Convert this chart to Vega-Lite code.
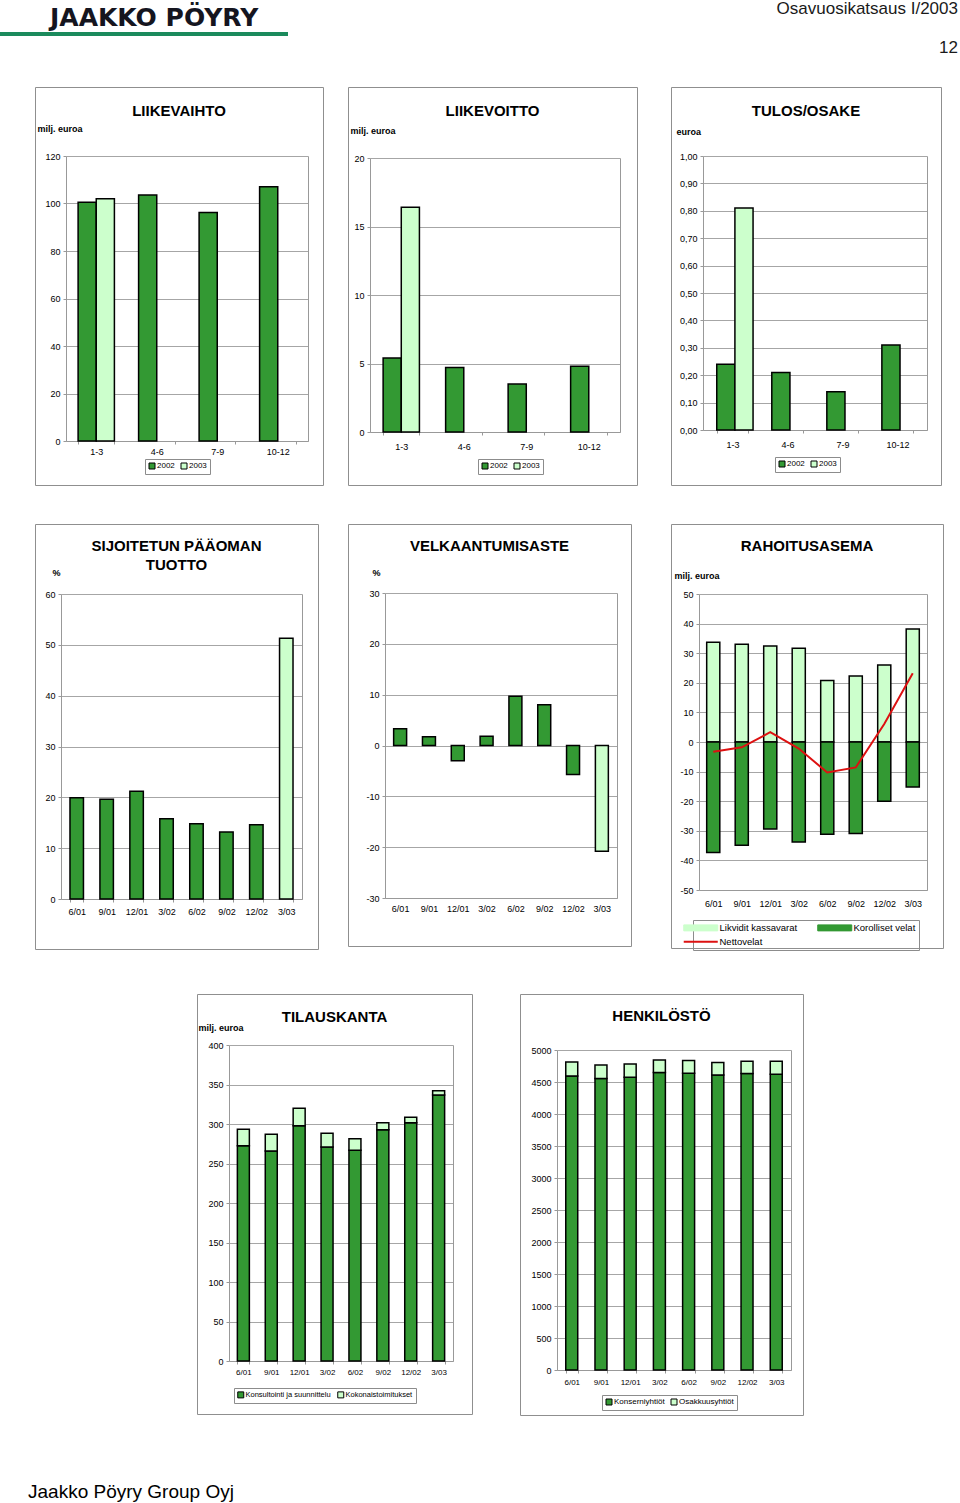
{
  "$schema": "https://vega.github.io/schema/vega-lite/v6.json",
  "padding": 0,
  "background": "white",
  "spacing": 0,
  "resolve": {"scale": {"color": "independent"}, "legend": {"color": "independent"}},
  "datasets": {
    "liikevaihto": [
      {"jakso": "1-3", "vuosi": "2002", "arvo": 100.5},
      {"jakso": "4-6", "vuosi": "2002", "arvo": 103.6},
      {"jakso": "7-9", "vuosi": "2002", "arvo": 96.2},
      {"jakso": "10-12", "vuosi": "2002", "arvo": 107.1},
      {"jakso": "1-3", "vuosi": "2003", "arvo": 102.0}
    ],
    "liikevoitto": [
      {"jakso": "1-3", "vuosi": "2002", "arvo": 5.4},
      {"jakso": "4-6", "vuosi": "2002", "arvo": 4.7},
      {"jakso": "7-9", "vuosi": "2002", "arvo": 3.5},
      {"jakso": "10-12", "vuosi": "2002", "arvo": 4.8},
      {"jakso": "1-3", "vuosi": "2003", "arvo": 16.4}
    ],
    "tulos": [
      {"jakso": "1-3", "vuosi": "2002", "arvo": 0.24},
      {"jakso": "4-6", "vuosi": "2002", "arvo": 0.21},
      {"jakso": "7-9", "vuosi": "2002", "arvo": 0.14},
      {"jakso": "10-12", "vuosi": "2002", "arvo": 0.31},
      {"jakso": "1-3", "vuosi": "2003", "arvo": 0.81}
    ],
    "roi": [
      {"kausi": "6/01", "sarja": "aiemmat", "arvo": 19.9},
      {"kausi": "9/01", "sarja": "aiemmat", "arvo": 19.6},
      {"kausi": "12/01", "sarja": "aiemmat", "arvo": 21.2},
      {"kausi": "3/02", "sarja": "aiemmat", "arvo": 15.8},
      {"kausi": "6/02", "sarja": "aiemmat", "arvo": 14.8},
      {"kausi": "9/02", "sarja": "aiemmat", "arvo": 13.2},
      {"kausi": "12/02", "sarja": "aiemmat", "arvo": 14.6},
      {"kausi": "3/03", "sarja": "2003", "arvo": 51.3}
    ],
    "velka": [
      {"kausi": "6/01", "sarja": "aiemmat", "arvo": 3.3},
      {"kausi": "9/01", "sarja": "aiemmat", "arvo": 1.7},
      {"kausi": "12/01", "sarja": "aiemmat", "arvo": -3.0},
      {"kausi": "3/02", "sarja": "aiemmat", "arvo": 1.8},
      {"kausi": "6/02", "sarja": "aiemmat", "arvo": 9.7},
      {"kausi": "9/02", "sarja": "aiemmat", "arvo": 8.0},
      {"kausi": "12/02", "sarja": "aiemmat", "arvo": -5.7},
      {"kausi": "3/03", "sarja": "2003", "arvo": -20.8}
    ],
    "rahoitus": [
      {"kausi": "6/01", "sarja": "Likvidit kassavarat", "arvo": 33.7},
      {"kausi": "9/01", "sarja": "Likvidit kassavarat", "arvo": 33.0},
      {"kausi": "12/01", "sarja": "Likvidit kassavarat", "arvo": 32.4},
      {"kausi": "3/02", "sarja": "Likvidit kassavarat", "arvo": 31.7},
      {"kausi": "6/02", "sarja": "Likvidit kassavarat", "arvo": 20.8},
      {"kausi": "9/02", "sarja": "Likvidit kassavarat", "arvo": 22.3},
      {"kausi": "12/02", "sarja": "Likvidit kassavarat", "arvo": 26.0},
      {"kausi": "3/03", "sarja": "Likvidit kassavarat", "arvo": 38.2},
      {"kausi": "6/01", "sarja": "Korolliset velat", "arvo": -37.3},
      {"kausi": "9/01", "sarja": "Korolliset velat", "arvo": -34.9},
      {"kausi": "12/01", "sarja": "Korolliset velat", "arvo": -29.4},
      {"kausi": "3/02", "sarja": "Korolliset velat", "arvo": -33.8},
      {"kausi": "6/02", "sarja": "Korolliset velat", "arvo": -31.2},
      {"kausi": "9/02", "sarja": "Korolliset velat", "arvo": -30.9},
      {"kausi": "12/02", "sarja": "Korolliset velat", "arvo": -20.0},
      {"kausi": "3/03", "sarja": "Korolliset velat", "arvo": -15.2},
      {"kausi": "6/01", "sarja": "Nettovelat", "arvo": -3.3},
      {"kausi": "9/01", "sarja": "Nettovelat", "arvo": -1.8},
      {"kausi": "12/01", "sarja": "Nettovelat", "arvo": 3.3},
      {"kausi": "3/02", "sarja": "Nettovelat", "arvo": -2.2},
      {"kausi": "6/02", "sarja": "Nettovelat", "arvo": -10.3},
      {"kausi": "9/02", "sarja": "Nettovelat", "arvo": -8.6},
      {"kausi": "12/02", "sarja": "Nettovelat", "arvo": 6.1},
      {"kausi": "3/03", "sarja": "Nettovelat", "arvo": 23.2}
    ],
    "tilaus": [
      {"kausi": "6/01", "sarja": "Konsultointi ja suunnittelu", "arvo": 272.6},
      {"kausi": "9/01", "sarja": "Konsultointi ja suunnittelu", "arvo": 265.8},
      {"kausi": "12/01", "sarja": "Konsultointi ja suunnittelu", "arvo": 297.9},
      {"kausi": "3/02", "sarja": "Konsultointi ja suunnittelu", "arvo": 270.9},
      {"kausi": "6/02", "sarja": "Konsultointi ja suunnittelu", "arvo": 266.7},
      {"kausi": "9/02", "sarja": "Konsultointi ja suunnittelu", "arvo": 292.8},
      {"kausi": "12/02", "sarja": "Konsultointi ja suunnittelu", "arvo": 301.7},
      {"kausi": "3/03", "sarja": "Konsultointi ja suunnittelu", "arvo": 336.7},
      {"kausi": "6/01", "sarja": "Kokonaistoimitukset", "arvo": 20.6},
      {"kausi": "9/01", "sarja": "Kokonaistoimitukset", "arvo": 21.2},
      {"kausi": "12/01", "sarja": "Kokonaistoimitukset", "arvo": 21.9},
      {"kausi": "3/02", "sarja": "Kokonaistoimitukset", "arvo": 17.3},
      {"kausi": "6/02", "sarja": "Kokonaistoimitukset", "arvo": 14.7},
      {"kausi": "9/02", "sarja": "Kokonaistoimitukset", "arvo": 8.9},
      {"kausi": "12/02", "sarja": "Kokonaistoimitukset", "arvo": 6.7},
      {"kausi": "3/03", "sarja": "Kokonaistoimitukset", "arvo": 5.5}
    ],
    "henkilosto": [
      {"kausi": "6/01", "sarja": "Konserniyhtiöt", "arvo": 4595},
      {"kausi": "9/01", "sarja": "Konserniyhtiöt", "arvo": 4553},
      {"kausi": "12/01", "sarja": "Konserniyhtiöt", "arvo": 4574},
      {"kausi": "3/02", "sarja": "Konserniyhtiöt", "arvo": 4647},
      {"kausi": "6/02", "sarja": "Konserniyhtiöt", "arvo": 4636},
      {"kausi": "9/02", "sarja": "Konserniyhtiöt", "arvo": 4610},
      {"kausi": "12/02", "sarja": "Konserniyhtiöt", "arvo": 4631},
      {"kausi": "3/03", "sarja": "Konserniyhtiöt", "arvo": 4620},
      {"kausi": "6/01", "sarja": "Osakkuusyhtiöt", "arvo": 218},
      {"kausi": "9/01", "sarja": "Osakkuusyhtiöt", "arvo": 213},
      {"kausi": "12/01", "sarja": "Osakkuusyhtiöt", "arvo": 208},
      {"kausi": "3/02", "sarja": "Osakkuusyhtiöt", "arvo": 197},
      {"kausi": "6/02", "sarja": "Osakkuusyhtiöt", "arvo": 198},
      {"kausi": "9/02", "sarja": "Osakkuusyhtiöt", "arvo": 193},
      {"kausi": "12/02", "sarja": "Osakkuusyhtiöt", "arvo": 192},
      {"kausi": "3/03", "sarja": "Osakkuusyhtiöt", "arvo": 203}
    ]
  },
  "vconcat": [
    {
      "hconcat": [
        {"width": 288, "height": 4, "data": {"values": []}, "mark": "rule", "encoding": {}, "view": {"stroke": null, "fill": "#1b8a5c"},
         "title": {"text": "JAAKKO PÖYRY", "anchor": "start", "frame": "group", "dx": 50, "font": "DejaVu Sans", "fontSize": 25, "fontWeight": "bold", "color": "#15151f", "offset": 1}},
        {"width": 312, "height": 54, "data": {"values": []}, "mark": "rule", "encoding": {}, "view": {"stroke": null}},
        {"width": 358, "height": 0, "data": {"values": []}, "mark": "rule", "encoding": {}, "view": {"stroke": null},
         "title": {"text": "Osavuosikatsaus I/2003", "subtitle": "12", "anchor": "end", "frame": "group", "font": "Liberation Sans", "fontSize": 17, "fontWeight": "normal", "color": "#1a1a1a", "subtitleFont": "Liberation Sans", "subtitleFontSize": 17, "subtitleColor": "#1a1a1a", "subtitlePadding": 22, "offset": 0, "dy": 25}}
      ],
      "spacing": 0, "bounds": "flush",
      "resolve": {"scale": {"color": "independent"}, "legend": {"color": "independent"}}
    },
    {
      "hconcat": [
        {"width": 35, "height": 436, "data": {"values": []}, "mark": "rule", "encoding": {}, "view": {"stroke": null}},
        {
          "width": 288, "height": 398,
          "title": {"text": "LIIKEVAIHTO", "offset": -32},
          "data": {"name": "liikevaihto"},
          "layer": [
            {
              "mark": {"type": "bar", "stroke": "#000000", "strokeWidth": 1.5},
              "encoding": {
                "x": {"field": "jakso", "type": "nominal", "sort": ["1-3", "4-6", "7-9", "10-12"], "scale": {"range": [31, 273], "paddingInner": 0.4, "paddingOuter": 0.2}, "axis": {"title": null, "labelPadding": 3, "offset": -44}},
                "xOffset": {"field": "vuosi", "type": "nominal", "scale": {"domain": ["2002", "2003"], "paddingInner": 0, "paddingOuter": 0}},
                "y": {"field": "arvo", "type": "quantitative", "scale": {"domain": [0, 120], "nice": false, "range": [354, 69]}, "axis": {"title": "milj. euroa", "titleX": -29, "titleY": 44, "offset": -31, "values": [0, 20, 40, 60, 80, 100, 120]}},
                "color": {"field": "vuosi", "type": "nominal", "scale": {"domain": ["2002", "2003"], "range": ["#339933", "#ccffcc"]}, "legend": {"title": null, "legendX": 110, "legendY": 372}}
              }
            },
            {
              "mark": {"type": "rule", "opacity": 0},
              "encoding": {"y": {"field": "arvo", "type": "quantitative", "axis": {"orient": "right", "offset": -15, "labels": false, "ticks": false, "grid": false, "domain": true, "title": null}}}
            }
          ],
          "resolve": {"axis": {"y": "independent"}}
        },
        {"width": 25, "height": 0, "data": {"values": []}, "mark": "rule", "encoding": {}, "view": {"stroke": null}},
        {
          "width": 289, "height": 398,
          "title": {"text": "LIIKEVOITTO", "offset": -32},
          "data": {"name": "liikevoitto"},
          "layer": [
            {
              "mark": {"type": "bar", "stroke": "#000000", "strokeWidth": 1.5},
              "encoding": {
                "x": {"field": "jakso", "type": "nominal", "sort": ["1-3", "4-6", "7-9", "10-12"], "scale": {"range": [22, 272], "paddingInner": 0.42, "paddingOuter": 0.21}, "axis": {"title": null, "labelPadding": 7, "offset": -53}},
                "xOffset": {"field": "vuosi", "type": "nominal", "scale": {"domain": ["2002", "2003"], "paddingInner": 0, "paddingOuter": 0}},
                "y": {"field": "arvo", "type": "quantitative", "scale": {"domain": [0, 20], "nice": false, "range": [345, 71]}, "axis": {"title": "milj. euroa", "titleX": -20, "titleY": 46, "offset": -22, "values": [0, 5, 10, 15, 20]}},
                "color": {"field": "vuosi", "type": "nominal", "scale": {"domain": ["2002", "2003"], "range": ["#339933", "#ccffcc"]}, "legend": {"title": null, "legendX": 130, "legendY": 372}}
              }
            },
            {
              "mark": {"type": "rule", "opacity": 0},
              "encoding": {"y": {"field": "arvo", "type": "quantitative", "axis": {"orient": "right", "offset": -17, "labels": false, "ticks": false, "grid": false, "domain": true, "title": null}}}
            }
          ],
          "resolve": {"axis": {"y": "independent"}}
        },
        {"width": 34, "height": 0, "data": {"values": []}, "mark": "rule", "encoding": {}, "view": {"stroke": null}},
        {
          "width": 270, "height": 398,
          "title": {"text": "TULOS/OSAKE", "offset": -32},
          "data": {"name": "tulos"},
          "layer": [
            {
              "mark": {"type": "bar", "stroke": "#000000", "strokeWidth": 1.5},
              "encoding": {
                "x": {"field": "jakso", "type": "nominal", "sort": ["1-3", "4-6", "7-9", "10-12"], "scale": {"range": [32, 256], "paddingInner": 0.43, "paddingOuter": 0.25}, "axis": {"title": null, "labelPadding": 7, "offset": -55}},
                "xOffset": {"field": "vuosi", "type": "nominal", "scale": {"domain": ["2002", "2003"], "paddingInner": 0, "paddingOuter": 0}},
                "y": {"field": "arvo", "type": "quantitative", "scale": {"domain": [0, 1], "nice": false, "range": [343, 69]}, "axis": {"title": "euroa", "titleX": -27, "titleY": 47, "offset": -32, "values": [0, 0.1, 0.2, 0.3, 0.4, 0.5, 0.6, 0.7, 0.8, 0.9, 1], "labelExpr": "replace(format(datum.value, '.2f'), '.', ',')"}},
                "color": {"field": "vuosi", "type": "nominal", "scale": {"domain": ["2002", "2003"], "range": ["#339933", "#ccffcc"]}, "legend": {"title": null, "legendX": 104, "legendY": 370}}
              }
            },
            {
              "mark": {"type": "rule", "opacity": 0},
              "encoding": {"y": {"field": "arvo", "type": "quantitative", "axis": {"orient": "right", "offset": -14, "labels": false, "ticks": false, "grid": false, "domain": true, "title": null}}}
            }
          ],
          "resolve": {"axis": {"y": "independent"}}
        }
      ],
      "spacing": 0, "bounds": "flush",
      "resolve": {"scale": {"color": "independent"}, "legend": {"color": "independent"}}
    },
    {
      "hconcat": [
        {"width": 35, "height": 469, "data": {"values": []}, "mark": "rule", "encoding": {}, "view": {"stroke": null}},
        {
          "width": 283, "height": 425,
          "title": {"text": ["SIJOITETUN PÄÄOMAN", "TUOTTO"], "offset": -49, "lineHeight": 19},
          "data": {"name": "roi"},
          "layer": [
            {
              "mark": {"type": "bar", "stroke": "#000000", "strokeWidth": 1.5},
              "encoding": {
                "x": {"field": "kausi", "type": "nominal", "sort": ["6/01", "9/01", "12/01", "3/02", "6/02", "9/02", "12/02", "3/03"], "scale": {"range": [26, 267], "paddingInner": 0.55, "paddingOuter": 0.3}, "axis": {"title": null, "labelPadding": 5, "offset": -50}},
                "y": {"field": "arvo", "type": "quantitative", "scale": {"domain": [0, 60], "nice": false, "range": [375, 70]}, "axis": {"title": "%", "titleX": -9, "titleY": 51, "offset": -26, "values": [0, 10, 20, 30, 40, 50, 60]}},
                "color": {"field": "sarja", "type": "nominal", "scale": {"domain": ["aiemmat", "2003"], "range": ["#339933", "#ccffcc"]}, "legend": null}
              }
            },
            {
              "mark": {"type": "rule", "opacity": 0},
              "encoding": {"y": {"field": "arvo", "type": "quantitative", "axis": {"orient": "right", "offset": -16, "labels": false, "ticks": false, "grid": false, "domain": true, "title": null}}}
            }
          ],
          "resolve": {"axis": {"y": "independent"}}
        },
        {"width": 30, "height": 0, "data": {"values": []}, "mark": "rule", "encoding": {}, "view": {"stroke": null}},
        {
          "width": 283, "height": 422,
          "title": {"text": "VELKAANTUMISASTE", "offset": -30},
          "data": {"name": "velka"},
          "layer": [
            {
              "mark": {"type": "bar", "stroke": "#000000", "strokeWidth": 1.5},
              "encoding": {
                "x": {"field": "kausi", "type": "nominal", "sort": ["6/01", "9/01", "12/01", "3/02", "6/02", "9/02", "12/02", "3/03"], "scale": {"range": [37, 269], "paddingInner": 0.55, "paddingOuter": 0.3}, "axis": {"title": null, "ticks": false, "labelPadding": 6, "offset": -48}},
                "y": {"field": "arvo", "type": "quantitative", "scale": {"domain": [-30, 30], "nice": false, "range": [374, 69]}, "axis": {"title": "%", "titleX": -13, "titleY": 51, "offset": -37, "values": [-30, -20, -10, 0, 10, 20, 30], "labelExpr": "toString(datum.value)"}},
                "color": {"field": "sarja", "type": "nominal", "scale": {"domain": ["aiemmat", "2003"], "range": ["#339933", "#ccffcc"]}, "legend": null}
              }
            },
            {
              "mark": {"type": "rule", "opacity": 0},
              "encoding": {"y": {"field": "arvo", "type": "quantitative", "axis": {"orient": "right", "offset": -14, "labels": false, "ticks": false, "grid": false, "domain": true, "title": null}}}
            }
          ],
          "resolve": {"axis": {"y": "independent"}}
        },
        {"width": 40, "height": 0, "data": {"values": []}, "mark": "rule", "encoding": {}, "view": {"stroke": null}},
        {
          "width": 272, "height": 424,
          "title": {"text": "RAHOITUSASEMA", "offset": -30},
          "data": {"name": "rahoitus"},
          "encoding": {
            "x": {"field": "kausi", "type": "nominal", "sort": ["6/01", "9/01", "12/01", "3/02", "6/02", "9/02", "12/02", "3/03"], "scale": {"range": [28, 256], "paddingInner": 0.54, "paddingOuter": 0.27}, "axis": {"title": null, "ticks": false, "labelPadding": 9, "offset": -58}},
            "color": {"field": "sarja", "type": "nominal", "scale": {"domain": ["Likvidit kassavarat", "Korolliset velat", "Nettovelat"], "range": ["#ccffcc", "#339933", "#dd1111"]},
              "legend": {"title": null, "legendX": 22, "legendY": 396, "columns": 2, "padding": 3, "labelFontSize": 9.5, "labelOffset": 14, "columnPadding": 17, "rowPadding": 3, "symbolSize": 36, "symbolType": "M-5.67,-1H5.67V1H-5.67Z",
                "encode": {"symbols": {"update": {
                  "shape": {"signal": "datum.value === 'Nettovelat' ? 'M-5.67,0H5.67' : 'M-5.67,-1H5.67V1H-5.67Z'"},
                  "fill": {"signal": "datum.value === 'Nettovelat' ? 'transparent' : (datum.value === 'Likvidit kassavarat' ? '#ccffcc' : '#339933')"},
                  "stroke": {"signal": "datum.value === 'Nettovelat' ? '#dd1111' : '#000000'"},
                  "strokeWidth": {"signal": "datum.value === 'Nettovelat' ? 2 : 1"}
                }}}}}
          },
          "layer": [
            {
              "transform": [{"filter": "datum.sarja !== 'Nettovelat'"}],
              "mark": {"type": "bar", "stroke": "#000000", "strokeWidth": 1.5},
              "encoding": {
                "y": {"field": "arvo", "type": "quantitative", "scale": {"domain": [-50, 50], "nice": false, "range": [366, 70]}, "axis": {"title": "milj.  euroa", "titleX": -25, "titleY": 54, "offset": -28, "values": [-50, -40, -30, -20, -10, 0, 10, 20, 30, 40, 50], "labelExpr": "toString(datum.value)"}}
              }
            },
            {
              "transform": [{"filter": "datum.sarja === 'Nettovelat'"}],
              "mark": {"type": "line", "strokeWidth": 2},
              "encoding": {
                "y": {"field": "arvo", "type": "quantitative", "axis": null},
                "order": {"value": null}
              }
            },
            {
              "mark": {"type": "rule", "opacity": 0},
              "encoding": {"x": null, "y": {"field": "arvo", "type": "quantitative", "axis": {"orient": "right", "offset": -16, "labels": false, "ticks": false, "grid": false, "domain": true, "title": null}}}
            }
          ],
          "resolve": {"axis": {"y": "independent"}}
        }
      ],
      "spacing": 0, "bounds": "flush",
      "resolve": {"scale": {"color": "independent"}, "legend": {"color": "independent"}}
    },
    {
      "hconcat": [
        {"width": 197, "height": 489, "data": {"values": []}, "mark": "rule", "encoding": {}, "view": {"stroke": null},
         "title": {"text": "Jaakko Pöyry Group Oyj", "orient": "bottom", "anchor": "start", "frame": "group", "dx": 28, "font": "Liberation Sans", "fontSize": 19, "fontWeight": "normal", "color": "#000000", "offset": 0}},
        {
          "width": 275, "height": 420,
          "title": {"text": "TILAUSKANTA", "offset": -31},
          "data": {"name": "tilaus"},
          "layer": [
            {
              "mark": {"type": "bar", "stroke": "#000000", "strokeWidth": 1.5},
              "encoding": {
                "x": {"field": "kausi", "type": "nominal", "sort": ["6/01", "9/01", "12/01", "3/02", "6/02", "9/02", "12/02", "3/03"], "scale": {"range": [32, 256], "paddingInner": 0.57, "paddingOuter": 0.3}, "axis": {"title": null, "labelPadding": 4, "labelFontSize": 8, "offset": -53}},
                "y": {"field": "arvo", "type": "quantitative", "scale": {"domain": [0, 400], "nice": false, "range": [367, 51]}, "axis": {"title": "milj. euroa", "titleX": -31, "titleY": 36, "offset": -32, "values": [0, 50, 100, 150, 200, 250, 300, 350, 400]}},
                "color": {"field": "sarja", "type": "nominal", "scale": {"domain": ["Konsultointi ja suunnittelu", "Kokonaistoimitukset"], "range": ["#339933", "#ccffcc"]}, "legend": {"title": null, "legendX": 37, "legendY": 394, "labelFontSize": 7.5}},
                "order": {"field": "sarja", "sort": "descending"}
              }
            },
            {
              "mark": {"type": "rule", "opacity": 0},
              "encoding": {"y": {"field": "arvo", "type": "quantitative", "axis": {"orient": "right", "offset": -19, "labels": false, "ticks": false, "grid": false, "domain": true, "title": null}}}
            }
          ],
          "resolve": {"axis": {"y": "independent"}}
        },
        {"width": 48, "height": 0, "data": {"values": []}, "mark": "rule", "encoding": {}, "view": {"stroke": null}},
        {
          "width": 283, "height": 421,
          "title": {"text": "HENKILÖSTÖ", "offset": -30},
          "data": {"name": "henkilosto"},
          "layer": [
            {
              "mark": {"type": "bar", "stroke": "#000000", "strokeWidth": 1.5},
              "encoding": {
                "x": {"field": "kausi", "type": "nominal", "sort": ["6/01", "9/01", "12/01", "3/02", "6/02", "9/02", "12/02", "3/03"], "scale": {"range": [37, 271], "paddingInner": 0.59, "paddingOuter": 0.3}, "axis": {"title": null, "labelPadding": 5, "labelFontSize": 8, "offset": -45}},
                "y": {"field": "arvo", "type": "quantitative", "scale": {"domain": [0, 5000], "nice": false, "range": [376, 56]}, "axis": {"title": null, "offset": -37, "values": [0, 500, 1000, 1500, 2000, 2500, 3000, 3500, 4000, 4500, 5000], "labelExpr": "toString(datum.value)"}},
                "color": {"field": "sarja", "type": "nominal", "scale": {"domain": ["Konserniyhtiöt", "Osakkuusyhtiöt"], "range": ["#339933", "#ccffcc"]}, "legend": {"title": null, "legendX": 82, "legendY": 401, "labelFontSize": 8}},
                "order": {"field": "sarja", "sort": "ascending"}
              }
            },
            {
              "mark": {"type": "rule", "opacity": 0},
              "encoding": {"y": {"field": "arvo", "type": "quantitative", "axis": {"orient": "right", "offset": -12, "labels": false, "ticks": false, "grid": false, "domain": true, "title": null}}}
            }
          ],
          "resolve": {"axis": {"y": "independent"}}
        }
      ],
      "spacing": 0, "bounds": "flush",
      "resolve": {"scale": {"color": "independent"}, "legend": {"color": "independent"}}
    }
  ],
  "config": {
    "font": "Liberation Sans",
    "view": {"stroke": "#8f8f8f", "strokeWidth": 1},
    "axis": {"labelFont": "Liberation Sans", "labelFontSize": 9, "labelColor": "#000000", "domainColor": "#999999", "tickColor": "#999999", "gridColor": "#a6a6a6", "titleFont": "Liberation Sans", "titleFontSize": 9, "titleFontWeight": "bold", "titleColor": "#000000", "labelOverlap": false},
    "axisX": {"labelAngle": 0, "tickSize": 3, "tickBand": "extent", "grid": false},
    "axisY": {"tickSize": 3, "labelPadding": 3, "titleAngle": 0, "titleAlign": "left", "titleBaseline": "alphabetic", "grid": true},
    "title": {"font": "Liberation Sans", "fontSize": 15, "fontWeight": "bold", "color": "#000000", "anchor": "middle", "frame": "group"},
    "legend": {"orient": "none", "direction": "horizontal", "labelFont": "Liberation Sans", "labelFontSize": 8, "labelColor": "#000000", "symbolType": "square", "symbolSize": 36, "symbolStrokeColor": "#000000", "symbolStrokeWidth": 1, "labelOffset": 1, "columnPadding": 4, "padding": 3, "strokeColor": "#8c8c8c"}
  }
}
